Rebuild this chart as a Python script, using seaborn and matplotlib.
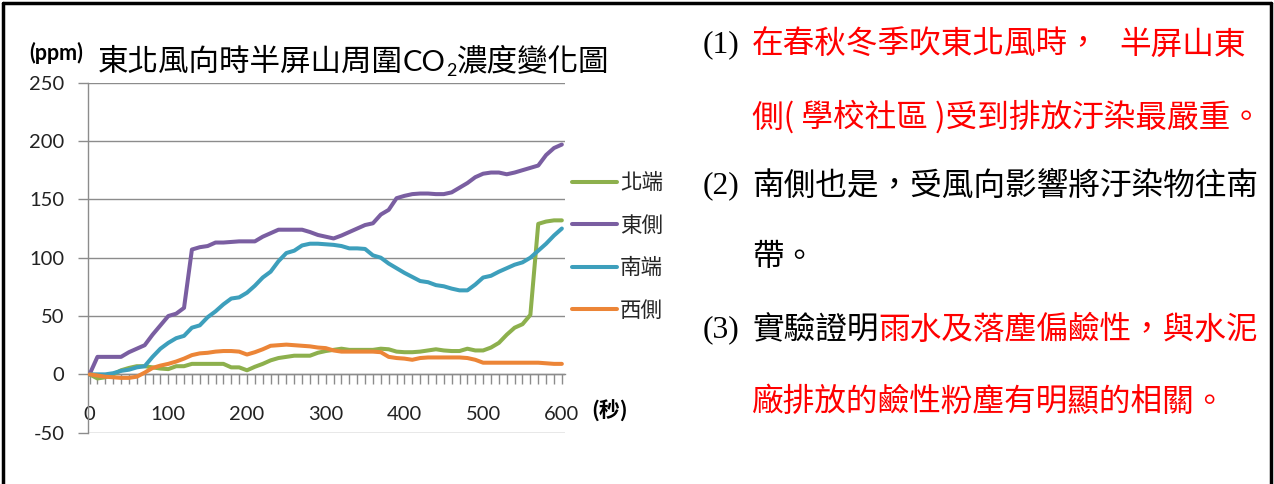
import numpy as np
import pandas as pd
import matplotlib
matplotlib.use("Agg")
import matplotlib.pyplot as plt
from matplotlib.lines import Line2D
import seaborn as sns

# ---- data: CO2 concentration (ppm) sampled every 10 seconds ----
seconds = np.arange(0, 601, 10)
series_names = ["北端", "東側", "南端", "西側"]
north = [0, -3.5, -2.5, 0, 3.5, 5.5, 7, 7, 6, 5,
         4.5, 7, 7, 9, 9, 9, 9, 9, 6, 6,
         3.5, 6.5, 9, 12, 14, 15, 16, 16, 16, 18.5,
         20, 21, 22, 21, 21, 21, 21, 22, 21.5, 19.5,
         19, 19, 19.5, 20.5, 21.5, 20.5, 20, 20, 22, 20.5,
         20.5, 23, 27, 34, 40, 43, 51, 129, 131, 132,
         132]
east = [0, 15, 15, 15, 15, 19, 22, 25, 34, 42,
        50, 52, 57, 107, 109, 110, 113, 113, 113.5, 114,
        114, 114, 118, 121, 124, 124, 124, 124, 122, 119.5,
        118, 116.5, 119, 122, 125, 128, 129.5, 137, 141, 151,
        153, 154.5, 155, 155, 154.5, 154.5, 156, 160, 164, 169,
        172, 173, 173, 171.5, 173, 175, 177, 179, 188, 194,
        197]
south = [0, 0, 0, 1, 3, 4, 6, 7, 15, 22,
         27, 31, 33, 40, 42, 49, 54, 60, 65, 66,
         70, 76, 83, 88, 97, 104, 106, 110.5, 112, 112,
         111.5, 111, 110, 108, 108, 107.5, 102, 100, 95, 91,
         87, 83.5, 80, 79, 76.5, 75.5, 73.5, 72, 72, 77,
         83, 84.5, 88, 91, 94, 96, 100, 106, 112, 119,
         125]
west = [0, -1, -2, -2.5, -3, -3, -2, 1.5, 5.5, 7.5,
        9, 11, 13.5, 16.5, 18, 18.5, 19.5, 20, 20, 19.5,
        17, 19, 21.5, 24.5, 25, 25.5, 25, 24.5, 24, 23,
        22.5, 20.5, 19.5, 19.5, 19.5, 19.5, 19.5, 19, 15, 14,
        13.5, 12.5, 14, 14.5, 14.5, 14.5, 14.5, 14.5, 14, 12.5,
        10, 10, 10, 10, 10, 10, 10, 10, 9.5, 9,
        9]
series_values = [north, east, south, west]
x_tick_labels = ["0", "100", "200", "300", "400", "500", "600"]
y_tick_labels = ["-50", "0", "50", "100", "150", "200", "250"]

title_before = "東北風向時半屏山周圍"
title_after = "濃度變化圖"
# (number, [(x start, text, colour), ...], line centre y)
notes = [
    ("(1)", [(752, "在春秋冬季吹東北風時，", "red"), (1119, "半屏山東", "red")], 45),
    ("", [(752, "側( 學校社區 )受到排放汙染最嚴重。", "red")], 117),
    ("(2)", [(752, "南側也是，受風向影響將汙染物往南", "black")], 186),
    ("", [(752, "帶。", "black")], 257),
    ("(3)", [(752, "實驗證明", "black"), (None, "雨水及落塵偏鹼性，與水泥", "red")], 330),
    ("", [(752, "廠排放的鹼性粉塵有明顯的相關。", "red")], 402),
]

colors = ["#8DB04D", "#7A5EA1", "#3D9FBC", "#EC8537"]

sns.set_theme(style="white")
plt.rcParams["font.family"] = ["Noto Sans CJK TC", "DejaVu Sans"]
plt.rcParams["axes.unicode_minus"] = False

df = pd.concat(
    [pd.DataFrame({"秒": seconds, "ppm": vals, "位置": name})
     for name, vals in zip(series_names, series_values)],
    ignore_index=True,
)

W, H = 1274, 484
fig = plt.figure(figsize=(W / 100, H / 100), dpi=100)
fig.patch.set_facecolor("white")


def fx(px):
    return px / W


def fy(py):
    return 1 - py / H


ax = fig.add_axes([fx(88), fy(432.7), (565 - 88) / W, (432.7 - 82.7) / H])
sns.lineplot(data=df, x="秒", y="ppm", hue="位置", hue_order=series_names,
             palette=colors, linewidth=2.9, ax=ax, zorder=3, legend=True)

grid_col = "#8C8C8C"
ax.set_xlim(-2, 604)
ax.set_ylim(-50, 250)
ax.set_yticks(range(-50, 251, 50))
ax.set_yticklabels(y_tick_labels)
ax.set_xticks(range(0, 601, 100))
ax.set_xticklabels(x_tick_labels)
ax.set_xticks(range(0, 601, 10), minor=True)
ax.set_xlabel("")
ax.set_ylabel("")
ax.yaxis.grid(True, color=grid_col, linewidth=1.0)
ax.xaxis.grid(False)
ax.set_axisbelow(True)
for side in ("top", "right"):
    ax.spines[side].set_visible(False)
ax.spines["left"].set_color(grid_col)
ax.spines["left"].set_linewidth(1.0)
ax.spines["bottom"].set_position(("data", 0))
ax.spines["bottom"].set_color(grid_col)
ax.spines["bottom"].set_linewidth(1.0)
ax.tick_params(axis="x", which="both", direction="out", length=7, width=1,
               color=grid_col, pad=16, labelsize=14.5, labelcolor="#222222",
               labelfontfamily="Lato", bottom=True)
ax.tick_params(axis="y", direction="out", length=7, width=1, color=grid_col,
               pad=10, labelsize=14.5, labelcolor="#222222",
               labelfontfamily="Lato", left=True)

handles, labels = ax.get_legend_handles_labels()
ax.legend(handles, labels, loc="center left",
          bbox_to_anchor=(fx(572), fy(247)), bbox_transform=fig.transFigure,
          frameon=False, fontsize=15.5, handlelength=2.1, handletextpad=0.12,
          labelspacing=0.95, borderaxespad=0, borderpad=0)

fig.canvas.draw()
renderer = fig.canvas.get_renderer()

# chart title with subscript
base_y = 71
t1 = fig.text(fx(98), fy(base_y), title_before, ha="left", va="baseline",
              fontsize=22, color="black")
bb = t1.get_window_extent(renderer)
t2 = fig.text(bb.x1 / W, fy(base_y), "CO", ha="left", va="baseline",
              fontsize=21, family="Lato", color="black")
bb = t2.get_window_extent(renderer)
t3 = fig.text(bb.x1 / W, fy(base_y + 5), "2", ha="left", va="baseline",
              fontsize=13, family="Lato", color="black")
bb = t3.get_window_extent(renderer)
fig.text(bb.x1 / W + 1 / W, fy(base_y), title_after, ha="left", va="baseline",
         fontsize=22, color="black")

fig.text(fx(29), fy(53), "(ppm)", ha="left", va="center", fontsize=15.5,
         family="Lato", fontweight="bold", color="black")
fig.text(fx(591), fy(411), "(秒)", ha="left", va="center", fontsize=15,
         fontweight="bold", color="black")

# notes on the right
note_size = 22.8
for num, pieces, y in notes:
    if num:
        fig.text(fx(703), fy(y), num, ha="left", va="center",
                 fontsize=note_size, family="Liberation Serif", color="black")
    x_next = None
    for x0, s, c in pieces:
        x = x0 if x0 is not None else x_next
        t = fig.text(fx(x), fy(y), s, ha="left", va="center",
                     fontsize=note_size, color=c)
        x_next = t.get_window_extent(renderer).x1

# page frame
frame_kw = dict(color="black", linewidth=2.5, transform=fig.transFigure)
fig.add_artist(Line2D([fx(3), fx(1271)], [fy(3), fy(3)], **frame_kw))
fig.add_artist(Line2D([fx(3), fx(3)], [fy(3), fy(484)], **frame_kw))
fig.add_artist(Line2D([fx(1271), fx(1271)], [fy(3), fy(484)], **frame_kw))

fig.savefig("out.png", dpi=100, facecolor="white")
